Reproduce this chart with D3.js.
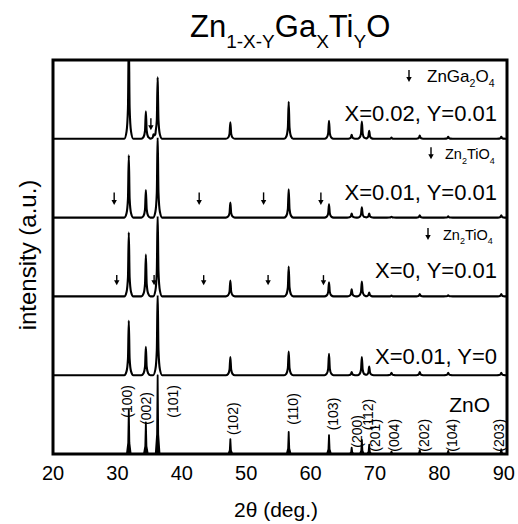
<!DOCTYPE html>
<html><head><meta charset="utf-8">
<script src="https://cdn.jsdelivr.net/npm/d3@7"></script>
<style>body{margin:0;background:#fff;} svg{display:block;font-family:"Liberation Sans",Arial,sans-serif;}</style>
</head><body><svg id="c" width="518" height="524"></svg>
<script>
// ---- data ----
const hkl = ["(100)","(002)","(101)","(102)","(110)","(103)","(200)","(112)","(201)","(004)","(202)","(104)","(203)"];
const twoTheta = [31.77,34.42,36.25,47.54,56.60,62.86,66.38,67.96,69.10,72.56,76.95,81.37,89.61];
const sampleLabels = ["X=0.02, Y=0.01","X=0.01, Y=0.01","X=0, Y=0.01","X=0.01, Y=0","ZnO"];
const intensityX002Y001 = [130,35,78,21,47,23,5,22,10,1.5,4,2.5,2.5];
const intensityX001Y001 = [79,35,105,19,36,17,5,13,5,1,3,1.5,3];
const intensityX0Y001   = [81,53,105,20,38,18,9,19,5,1,3,1.5,3];
const intensityX001Y0   = [69,36,105,23,30,27,4,23,11,3,4,3,3];
const intensityZnO      = [56,40,100,19,28,24,8,18,12,3,5,4,6];
const impurityPos = [35.6];          // ZnGa2O4 shoulder in top pattern
const impurityInt = [5];
const arrowsZnGa2O4 = [35.2];
const arrowsZn2TiO4a = [29.5,42.7,52.7,61.6];
const arrowsZn2TiO4b = [29.9,35.7,43.4,53.4,62.0];
const arrowLevels = [[26,11],[32,16],[27,14]]; // arrow top / tip, a.u.
const znoLabelLevel = [46,37,46,24,37,30,8,30,3,3,3,3,3];
const xTicks = [20,30,40,50,60,70,80,90];

// ---- layout ----
const svg = d3.select("#c");
const x = d3.scaleLinear().domain([20,90.5]).range([53,507]);
const band = d3.scaleBand().domain(d3.range(5)).range([60,454]).paddingInner(0);
const bw = band.bandwidth();
const yOf = i => d3.scaleLinear().domain([0,100]).range([band(i)+bw, band(i)]);

const wideShape = [[-0.7,0],[-0.35,0.07],[-0.13,0.3],[0,1],[0.13,0.3],[0.35,0.07],[0.7,0]];
const stickShape = [[-0.3,0],[-0.09,0.25],[0,1],[0.09,0.25],[0.3,0]];
function shapeAt(d, s){
  if (d <= s[0][0] || d >= s[s.length-1][0]) return 0;
  for (let j=1;j<s.length;j++){
    if (d <= s[j][0]){ const t=(d-s[j-1][0])/(s[j][0]-s[j-1][0]); return s[j-1][1]+t*(s[j][1]-s[j-1][1]); }
  }
  return 0;
}
function profile(pos, ints, s){
  const nodes = [x.domain()[0], x.domain()[1]];
  pos.forEach(p => s.forEach(q => nodes.push(p+q[0])));
  nodes.sort((a,b)=>a-b);
  return nodes.map(t => [t, d3.sum(pos, (p,k) => ints[k]*shapeAt(t-p, s))]);
}

const series = [
  {pos: twoTheta.concat(impurityPos), ints: intensityX002Y001.concat(impurityInt), shape: wideShape},
  {pos: twoTheta, ints: intensityX001Y001, shape: wideShape},
  {pos: twoTheta, ints: intensityX0Y001, shape: wideShape},
  {pos: twoTheta, ints: intensityX001Y0, shape: wideShape},
  {pos: twoTheta, ints: intensityZnO, shape: stickShape}
];

const defs = svg.append("defs");
series.forEach((s,i) => {
  defs.append("clipPath").attr("id","cp"+i).append("rect")
    .attr("x",53).attr("y",band(i)-1).attr("width",454).attr("height",bw+3);
  const y = yOf(i);
  const line = d3.line().x(d=>x(d[0])).y(d=>y(d[1]))
    .curve(i===4 ? d3.curveLinear : d3.curveMonotoneX);
  svg.append("path").attr("clip-path","url(#cp"+i+")")
    .attr("d", line(profile(s.pos, s.ints, s.shape)))
    .attr("fill", i===4 ? "#000" : "none").attr("stroke","#000")
    .attr("stroke-width", i===4 ? 1.8 : 2.1).attr("stroke-linejoin","round");
});

// arrows
function arrow(xx, y1, y2){
  svg.append("line").attr("x1",xx).attr("x2",xx).attr("y1",y1).attr("y2",y2-3)
    .attr("stroke","#000").attr("stroke-width",1.4);
  svg.append("path").attr("d",`M${xx-2.7},${y2-5}L${xx+2.7},${y2-5}L${xx},${y2}Z`).attr("fill","#000");
}
[arrowsZnGa2O4, arrowsZn2TiO4a, arrowsZn2TiO4b].forEach((arr,i) => {
  const y = yOf(i);
  arr.forEach(p => arrow(x(p), y(arrowLevels[i][0]), y(arrowLevels[i][1])));
});

// sample labels
const labelDy = [61,61,60.5,67.5];
sampleLabels.slice(0,4).forEach((t,i) => {
  svg.append("text").attr("x",497).attr("y",band(i)+labelDy[i])
    .attr("text-anchor","end").attr("font-size",22).text(t);
});
svg.append("text").attr("x",490).attr("y",412).attr("text-anchor","end")
  .attr("font-size",21).text(sampleLabels[4]);

// phase legends
function phase(i, ax, tx, by, fs, parts){
  arrow(ax, by-12, by);
  const t = svg.append("text").attr("x",tx).attr("y",by).attr("font-size",fs);
  parts.forEach(p => {
    t.append("tspan").attr("font-size", p.sub ? fs*0.62 : fs)
      .attr("dy", p.sub ? fs*0.3 : (p.back ? -fs*0.3 : 0)).text(p.t);
  });
}
phase(0, 409, 427, band(0)+22, 17, [{t:"ZnGa"},{t:"2",sub:1},{t:"O",back:1},{t:"4",sub:1}]);
phase(1, 431, 445, band(1)+20.5, 14.5, [{t:"Zn"},{t:"2",sub:1},{t:"TiO",back:1},{t:"4",sub:1}]);
phase(2, 428, 443, band(2)+22.5, 14.5, [{t:"Zn"},{t:"2",sub:1},{t:"TiO",back:1},{t:"4",sub:1}]);

// ZnO hkl labels
const znoDx = [-2,0,15,3,4,4,5,6,6,3,4,4,-2];
const y4 = yOf(4);
hkl.forEach((h,k) => {
  svg.append("text")
    .attr("transform",`translate(${x(twoTheta[k])+znoDx[k]},${y4(znoLabelLevel[k])}) rotate(-90)`)
    .attr("dy","0.35em").attr("font-size",14).text(h);
});

// frame
svg.append("rect").attr("x",53).attr("y",60).attr("width",454).attr("height",394)
  .attr("fill","none").attr("stroke","#000").attr("stroke-width",3);

// x axis tick labels
svg.selectAll(".xt").data(xTicks).enter().append("text")
  .attr("x",d=>x(d)).attr("y",480).attr("text-anchor","middle").attr("font-size",20).text(d=>d);
svg.append("text").attr("x",276).attr("y",517).attr("text-anchor","middle").attr("font-size",21).text("2θ (deg.)");
svg.append("text").attr("transform","translate(28,255) rotate(-90)").attr("dy","0.35em")
  .attr("text-anchor","middle").attr("font-size",24).text("intensity (a.u.)");

// title
const title = svg.append("text").attr("x",190).attr("y",37).attr("font-size",31);
[["Zn",0],["1-X-Y",1],["Ga",-1],["X",1],["Ti",-1],["Y",1],["O",-1]].forEach(([t,s]) => {
  title.append("tspan").attr("font-size", s===1 ? 19 : 31).attr("dy", s===1 ? 11 : (s===-1 ? -11 : 0)).text(t);
});
</script></body></html>
